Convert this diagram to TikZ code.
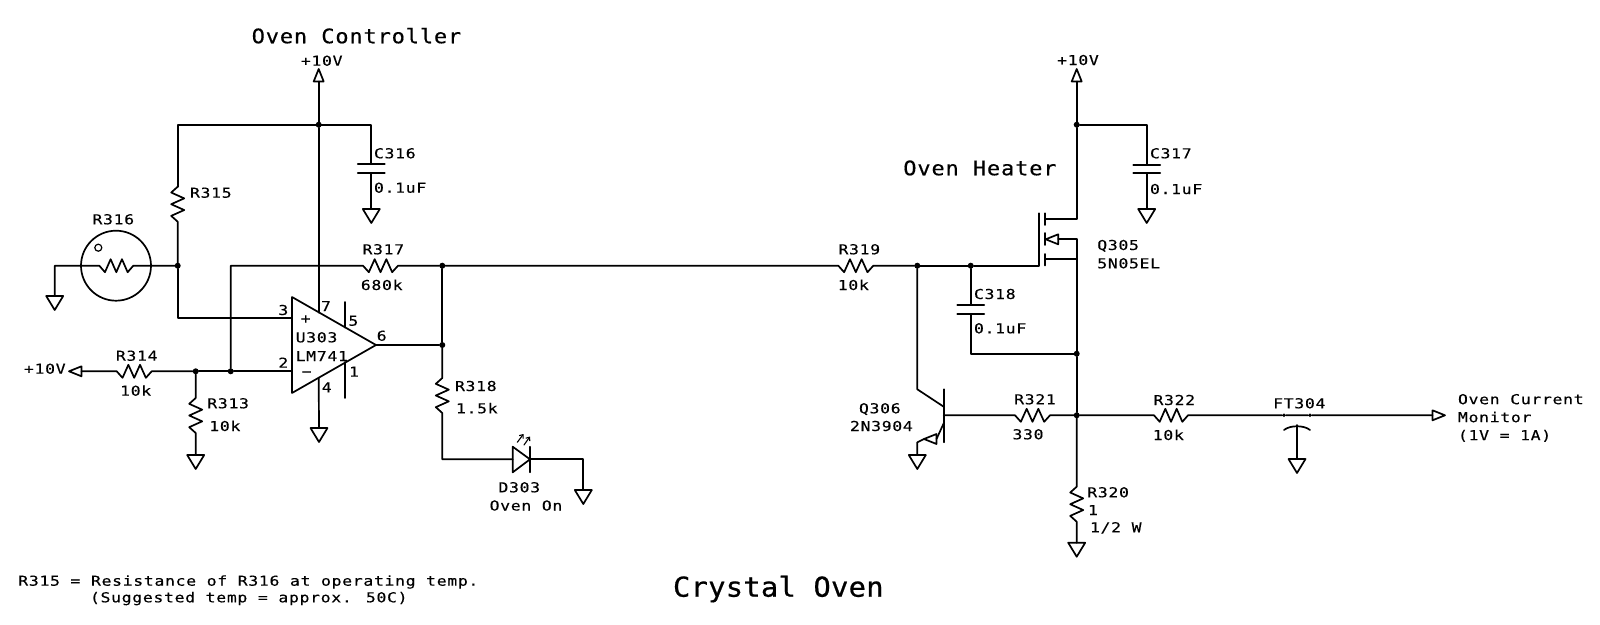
\documentclass[tikz,border=0pt]{standalone}
\usepackage{fontspec}
\usetikzlibrary{calc,shapes.geometric,arrows.meta}
\newfontfamily\schfont[FakeStretch=1.2,LetterSpace=5.0,FakeBold=0.25]{DejaVu Sans Mono}
\newfontfamily\headfont[FakeStretch=1.1,LetterSpace=4.2,FakeBold=0.4]{DejaVu Sans Mono}
\newfontfamily\mainheadfont[FakeStretch=1.05,LetterSpace=1.0,FakeBold=0.6]{DejaVu Sans Mono}

\tikzset{
  wire/.style={line width=1.7pt, line cap=round, line join=round},
  lbl/.style={inner sep=0pt, outer sep=0pt, text height=10pt, text depth=0pt, font=\schfont\fontsize{13.7}{18}\selectfont},
  lblw/.style={lbl, anchor=west},
  multi/.style={inner sep=0pt, outer sep=0pt, anchor=north west, align=left, font=\schfont\fontsize{13.7}{18}\selectfont},
  head/.style={inner sep=0pt, outer sep=0pt, anchor=west, text height=14.5pt, text depth=0pt, font=\headfont\fontsize{20}{24}\selectfont},
  mainhead/.style={inner sep=0pt, outer sep=0pt, anchor=west, text height=20pt, text depth=0pt, font=\mainheadfont\fontsize{27.4}{32}\selectfont},
  dot/.style={circle, fill=black, inner sep=0pt, outer sep=0pt, minimum size=6pt},
  tri/.style={isosceles triangle, isosceles triangle stretches, draw, wire, inner sep=0pt, outer sep=0pt},
  gnd/.style={tri, shape border rotate=-90, minimum height=14pt, minimum width=17pt, anchor=lower side},
  sig/.style={tri, minimum height=12.5pt, minimum width=10pt},
  plate/.style={draw, wire, rectangle, inner sep=0pt, outer sep=0pt, minimum width=27pt, minimum height=0pt},
  res/.style={to path={
    -- ($(\tikztostart)!0.1667!(\tikztotarget)!6.5pt!-90:(\tikztotarget)$)
    -- ($(\tikztostart)!0.3333!(\tikztotarget)!6.5pt!90:(\tikztotarget)$)
    -- ($(\tikztostart)!0.5!(\tikztotarget)!6.5pt!-90:(\tikztotarget)$)
    -- ($(\tikztostart)!0.6667!(\tikztotarget)!6.5pt!90:(\tikztotarget)$)
    -- ($(\tikztostart)!0.8333!(\tikztotarget)!6.5pt!-90:(\tikztotarget)$)
    -- (\tikztotarget)}}
}

\begin{document}
\begin{tikzpicture}[x=1pt, y=-1pt, every path/.append style={wire}]
  \useasboundingbox (0,0) rectangle (1600,624);

  % junctions
  \node[dot] (jtop1) at (318.7,124.7) {};
  \node[dot] (jr316) at (177.7,265.7) {};
  \node[dot] (jr313) at (195.7,371.3) {};
  \node[dot] (jfb) at (230.7,371.3) {};
  \node[dot] (jout1) at (442.3,265.7) {};
  \node[dot] (jout2) at (442.3,345) {};
  \node[dot] (jq306) at (917.3,265.7) {};
  \node[dot] (jc318) at (970.7,265.7) {};
  \node[dot] (jtop2) at (1076.7,124.7) {};
  \node[dot] (jc318b) at (1076.7,353.7) {};
  \node[dot] (jr321) at (1076.7,415.3) {};
  \node[dot, minimum size=3.8pt] (ft1) at (1284,415.3) {};
  \node[dot, minimum size=3.8pt] (ft2) at (1310,415.3) {};

  % grounds
  \node[gnd] (g316) at (54.7,296) {};
  \node[gnd] (gc316) at (371.3,209) {};
  \node[gnd] (g313) at (195.7,455) {};
  \node[gnd] (gop) at (319,428) {};
  \node[gnd] (gled) at (583.3,490) {};
  \node[gnd] (gc317) at (1146.7,209) {};
  \node[gnd] (gq306) at (917.3,455) {};
  \node[gnd] (g320) at (1076.7,542.7) {};
  \node[gnd] (gft) at (1297,459) {};

  % supply and signal ends
  \node[sig, shape border rotate=90, anchor=apex] (v1) at (318.7,69) {};
  \node[sig, shape border rotate=90, anchor=apex] (v2) at (1076.7,69) {};
  \node[sig, shape border rotate=180, anchor=apex] (v3) at (69,371.3) {};
  \node[sig, shape border rotate=0, anchor=apex] (mon) at (1445,415.3) {};

  % op amp
  \node[tri, minimum height=84pt, minimum width=96pt, anchor=lower side] (u303) at (292,345) {};
  \coordinate (u3p) at (292,318);
  \coordinate (u3n) at (292,371.3);
  \coordinate (u7) at (318.7,312.7);
  \coordinate (u4) at (318.7,377.7);
  \draw (345,302) -- (345,327.6);
  \draw (345,362) -- (345,398);

  % thermistor
  \node[circle, draw, wire, inner sep=0pt, minimum size=70pt] (r316) at (116,265.7) {};
  \node[circle, draw, line width=1.2pt, inner sep=0pt, minimum size=7pt] (r316o) at (98.3,247.7) {};
  \coordinate (r316a) at (99.3,265.7);
  \coordinate (r316b) at (133.3,265.7);
  \coordinate (g316t) at (54.7,265.7);
  \draw (g316.lower side) -- (g316t) -- (r316a) to[res] (r316b) -- (jr316);

  % top left rail
  \coordinate (c316r) at (371.3,124.7);
  \coordinate (r315l) at (177.7,124.7);
  \coordinate (r315a) at (177.7,186.7);
  \coordinate (r315b) at (177.7,221.7);
  \node[plate] (c316a) at (371.3,164.3) {};
  \node[plate] (c316b) at (371.3,173.3) {};
  \draw (v1.lower side) -- (jtop1);
  \draw (jtop1) -- (u7);
  \draw (r315a) -- (r315l) -- (c316r) -- (c316a);
  \draw (c316b) -- (gc316.lower side);
  \draw (r315a) to[res] (r315b) -- (jr316);
  \coordinate (pin3) at (177.7,318);
  \draw (jr316) -- (pin3) -- (u3p);

  % inverting input
  \coordinate (r314a) at (116.7,371.3);
  \coordinate (r314b) at (151.7,371.3);
  \coordinate (r313a) at (195.7,398);
  \coordinate (r313b) at (195.7,433);
  \draw (v3.lower side) -- (r314a) to[res] (r314b) -- (jr313);
  \draw (jr313) -- (jfb) -- (u3n);
  \draw (jr313) -- (r313a) to[res] (r313b) -- (g313.lower side);

  % feedback
  \coordinate (fbt) at (230.7,265.7);
  \coordinate (r317a) at (363,265.7);
  \coordinate (r317b) at (398,265.7);
  \draw (jfb) -- (fbt) -- (r317a) to[res] (r317b) -- (jout1);
  \draw (u4) -- (gop.lower side);
  \draw (u303.apex) -- (jout2);
  \draw (jout1) -- (jout2);

  % LED branch
  \coordinate (r318a) at (442.3,378);
  \coordinate (r318b) at (442.3,413);
  \coordinate (ledl) at (442.3,459.3);
  \coordinate (d1) at (512.7,459.3);
  \coordinate (d2) at (530,459.3);
  \coordinate (ledr) at (583.3,459.3);
  \draw (jout2) -- (r318a) to[res] (r318b) -- (ledl) -- (d1);
  \draw (d1 |- 0,446.7) -- (d2) -- (d1 |- 0,472.3) -- cycle;
  \draw (530,446.7) -- (530,472.3);
  \draw (d2) -- (ledr) -- (gled.lower side);
  \draw[line width=1.1pt, -{Straight Barb[length=3pt,width=5pt]}] (517.3,442.3) -- (523.5,434);
  \draw[line width=1.1pt, -{Straight Barb[length=3pt,width=5pt]}] (524,445) -- (530,436.5);

  % long line to heater
  \coordinate (r319a) at (838.3,265.7);
  \coordinate (r319b) at (873.3,265.7);
  \draw (jout1) -- (r319a) to[res] (r319b) -- (jq306);

  % Q305
  \coordinate (qgate) at (1039.3,265.7);
  \coordinate (qd1) at (1045,219.3);
  \coordinate (qd2) at (1076.7,219.3);
  \coordinate (qs1) at (1045,259.3);
  \coordinate (qs2) at (1076.7,259.3);
  \coordinate (qb2) at (1076.7,239.3);
  \node[sig, shape border rotate=180, anchor=apex] (qarrow) at (1045.7,239.3) {};
  \draw (jq306) -- (jc318) -- (qgate) -- (1039.3,213.3);
  \draw (1045,213.3) -- (1045,225);
  \draw (1045,233) -- (1045,245);
  \draw (1045,254) -- (1045,265.5);
  \draw (v2.lower side) -- (jtop2) -- (qd2) -- (qd1);
  \draw (qarrow.lower side) -- (qb2) -- (qs2) -- (qs1);
  \draw (qs2) -- (jc318b) -- (jr321);

  % C317
  \coordinate (c317r) at (1146.7,124.7);
  \node[plate] (c317a) at (1146.7,165) {};
  \node[plate] (c317b) at (1146.7,173.3) {};
  \draw (jtop2) -- (c317r) -- (c317a);
  \draw (c317b) -- (gc317.lower side);

  % C318
  \node[plate] (c318a) at (970.7,305) {};
  \node[plate] (c318b) at (970.7,314) {};
  \coordinate (c318c) at (970.7,353.7);
  \draw (jc318) -- (c318a);
  \draw (c318b) -- (c318c) -- (jc318b);

  % Q306
  \coordinate (qc1) at (917.3,389.3);
  \coordinate (qc2) at (943.7,406.7);
  \coordinate (qb) at (943.7,415.3);
  \coordinate (qe1) at (943.7,423.3);
  \coordinate (qe2) at (917.3,442.3);
  \coordinate (r321a) at (1015,415.3);
  \coordinate (r321b) at (1050,415.3);
  \node[sig, shape border rotate=215, anchor=apex] (qearrow) at (924,439) {};
  \draw (943.7,389.3) -- (943.7,442.3);
  \draw (jq306) -- (qc1) -- (qc2);
  \draw (qe1) -- (qearrow.lower side);
  \draw (qearrow.apex) -- (qe2) -- (gq306.lower side);
  \draw (qb) -- (r321a) to[res] (r321b) -- (jr321);

  % output side
  \coordinate (r320a) at (1076.7,486.7);
  \coordinate (r320b) at (1076.7,521.7);
  \coordinate (r322a) at (1154,415.3);
  \coordinate (r322b) at (1188,415.3);
  \coordinate (fts) at (1297,425);
  \draw (jr321) -- (r320a) to[res] (r320b) -- (g320.lower side);
  \draw (jr321) -- (r322a) to[res] (r322b) -- (ft1) -- (ft2) -- (mon.lower side);
  \draw (1284,430) .. controls (1290,425) and (1304,425) .. (1310,430);
  \draw (fts) -- (gft.lower side);

  % labels
  \node[head] (tctl) at (251.7,36) {Oven Controller};
  \node[head] (thtr) at (903.3,168) {Oven Heater};
  \node[mainhead] (tmain) at (673,586.7) {Crystal Oven};
  \node[lbl] (l10a) at (321.7,60.7) {+10V};
  \node[lbl] (l10b) at (1078,60) {+10V};
  \node[lblw] (l10c) at (24,368.7) {+10V};
  \node[lblw] (lc316) at (374,153.3) {C316};
  \node[lblw] (lc316v) at (374,187.7) {0.1uF};
  \node[lblw] (lc317) at (1150,153.3) {C317};
  \node[lblw] (lc317v) at (1150,189) {0.1uF};
  \node[lblw] (lc318) at (974,294) {C318};
  \node[lblw] (lc318v) at (974,328.3) {0.1uF};
  \node[lblw] (lr315) at (190,192.7) {R315};
  \node[lbl] (lr316) at (113.3,219.3) {R316};
  \node[lbl] (lr317) at (383.3,249.3) {R317};
  \node[lbl] (lr317v) at (381.7,285) {680k};
  \node[lbl] (lr314) at (136.7,355.7) {R314};
  \node[lbl] (lr314v) at (135.7,390.7) {10k};
  \node[lblw] (lr313) at (207.3,403.3) {R313};
  \node[lblw] (lr313v) at (209.3,426) {10k};
  \node[lblw] (lr318) at (455,386) {R318};
  \node[lblw] (lr318v) at (456,408.3) {1.5k};
  \node[lbl] (ld303) at (519.3,487.3) {D303};
  \node[lbl] (ld303n) at (526,505.5) {Oven On};
  \node[lbl] (lr319) at (859.3,249.3) {R319};
  \node[lbl] (lr319v) at (853.3,285) {10k};
  \node[lblw] (lq305) at (1097.3,245) {Q305};
  \node[lblw] (lq305v) at (1097.3,263.3) {5N05EL};
  \node[lblw] (lq306) at (859,408.3) {Q306};
  \node[lblw] (lq306v) at (850,426) {2N3904};
  \node[lbl] (lr321) at (1035,399.3) {R321};
  \node[lbl] (lr321v) at (1028,434.3) {330};
  \node[lbl] (lr322) at (1174.3,400) {R322};
  \node[lbl] (lr322v) at (1168.3,435) {10k};
  \node[lbl] (lft) at (1299.3,403.3) {FT304};
  \node[lblw] (lr320) at (1087.3,492.3) {R320};
  \node[lblw] (lr320v) at (1088,510) {1};
  \node[lblw] (lr320w) at (1090,527.3) {1/2 W};
  \node[multi] (lmon) at (1458,394) {Oven Current\\Monitor\\(1V = 1A)};
  \node[lblw] (lnote1) at (18.3,580.7) {R315 = Resistance of R316 at operating temp.};
  \node[lblw] (lnote2) at (90,597.3) {(Suggested temp = approx. 50C)};

  % op amp pins
  \node[lbl] (p3) at (283.3,310) {3};
  \node[lbl] (p2) at (283.3,362.7) {2};
  \node[lbl] (p7) at (326,306) {7};
  \node[lbl] (p5) at (353.3,320.7) {5};
  \node[lbl] (p6) at (381.7,335.7) {6};
  \node[lbl] (p1) at (354,371.7) {1};
  \node[lbl] (p4) at (326.7,387.3) {4};
  \node[lbl] (pplus) at (305.7,318.3) {+};
  \node[lbl] (pminus) at (306.7,371.3) {−};
  \node[lblw] (lu303) at (295.7,337.3) {U303};
  \node[lblw] (lm741) at (295.7,356) {LM741};
\end{tikzpicture}
\end{document}
